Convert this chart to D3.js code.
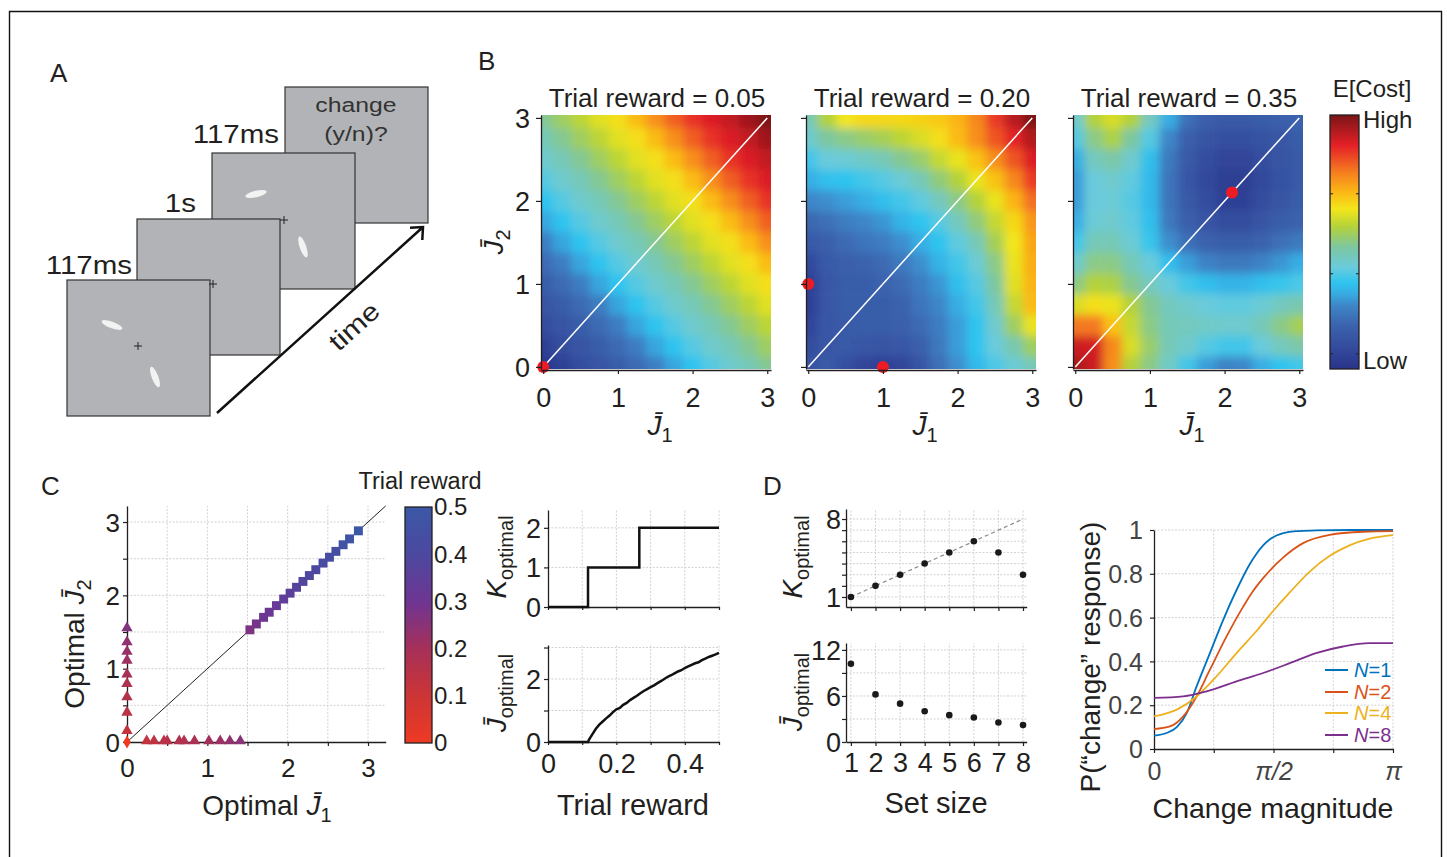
<!DOCTYPE html>
<html>
<head>
<meta charset="utf-8">
<script src="https://cdn.jsdelivr.net/npm/d3@7"></script>
<style>
  body { margin: 0; background: #fff; }
  svg { font-family: "Liberation Sans", Arial, Helvetica, sans-serif; }
</style>
</head>
<body>
<div id="fig"></div>
<script>
// ---------- data ----------
// panel A: trial sequence
const delayLabels = ['117ms', '1s', '117ms'];
const probeText = ['change', '(y/n)?'];

// panel B: expected cost on a 0.25 grid of J1 (columns) x J2 (rows, top row = 3)
const heatRewards = ['0.05', '0.20', '0.35'];
const jGrid = [0, 0.25, 0.5, 0.75, 1, 1.25, 1.5, 1.75, 2, 2.25, 2.5, 2.75, 3];
const costR05 = [
  [49, 53, 57, 61, 64, 69, 75, 81, 86, 89, 92, 96, 100],
  [45, 49, 53, 57, 61, 64, 69, 75, 81, 86, 89, 92, 96],
  [42, 45, 49, 53, 57, 61, 64, 69, 75, 81, 86, 89, 92],
  [38, 42, 45, 49, 53, 57, 61, 64, 69, 75, 81, 86, 89],
  [34, 38, 42, 45, 49, 53, 57, 61, 64, 69, 75, 81, 86],
  [29, 34, 38, 42, 45, 49, 53, 57, 61, 64, 69, 75, 81],
  [23, 29, 34, 38, 42, 45, 49, 53, 57, 61, 64, 69, 75],
  [19, 23, 29, 34, 38, 42, 45, 49, 53, 57, 61, 64, 69],
  [15, 19, 23, 29, 34, 38, 42, 45, 49, 53, 57, 61, 64],
  [12, 15, 19, 23, 29, 34, 38, 42, 45, 49, 53, 57, 61],
  [9, 12, 15, 19, 23, 29, 34, 38, 42, 45, 49, 53, 57],
  [5, 9, 12, 15, 19, 23, 29, 34, 38, 42, 45, 49, 53],
  [2, 5, 9, 12, 15, 19, 23, 29, 34, 38, 42, 45, 49]
];
const costR20 = [
  [45, 56, 63, 65, 65, 65, 66, 67, 70, 76, 85, 93, 100],
  [42, 48, 50, 52, 54, 57, 60, 64, 69, 75, 82, 88, 94],
  [36, 40, 41, 43, 45, 49, 52, 58, 62, 68, 75, 82, 89],
  [30, 33, 34, 36, 38, 41, 45, 51, 56, 62, 68, 76, 85],
  [25, 26, 28, 30, 33, 36, 39, 44, 50, 56, 62, 70, 79],
  [18, 20, 23, 25, 27, 31, 34, 38, 44, 51, 58, 65, 74],
  [14, 16, 19, 21, 23, 26, 30, 34, 39, 45, 54, 63, 72],
  [8, 14, 16, 17, 19, 22, 26, 31, 36, 41, 50, 62, 71],
  [5, 13, 15, 15, 17, 19, 23, 27, 33, 38, 48, 61, 70],
  [5, 13, 15, 15, 15, 17, 21, 25, 30, 36, 45, 58, 69],
  [6, 13, 14, 15, 15, 16, 19, 23, 28, 34, 42, 53, 62],
  [9, 13, 14, 13, 12, 13, 16, 22, 28, 34, 40, 46, 53],
  [12, 14, 10, 6, 5, 6, 12, 20, 26, 32, 37, 41, 45]
];
const costR35 = [
  [42, 56, 60, 56, 44, 30, 20, 16, 14, 14, 15, 16, 17],
  [38, 50, 55, 48, 38, 25, 16, 12, 10, 10, 11, 13, 15],
  [30, 44, 47, 42, 33, 22, 14, 9, 6, 6, 9, 12, 14],
  [28, 40, 42, 39, 32, 21, 13, 8, 4, 4, 8, 11, 14],
  [28, 40, 41, 38, 32, 21, 14, 9, 5, 5, 9, 12, 15],
  [30, 41, 42, 39, 33, 22, 16, 12, 9, 9, 12, 15, 17],
  [36, 45, 45, 41, 35, 26, 20, 17, 15, 15, 17, 20, 22],
  [42, 50, 50, 45, 40, 33, 28, 24, 22, 22, 24, 27, 30],
  [50, 56, 55, 49, 44, 40, 36, 33, 31, 31, 33, 35, 37],
  [60, 64, 62, 56, 49, 44, 42, 40, 39, 39, 41, 44, 46],
  [78, 78, 68, 58, 50, 45, 44, 43, 42, 42, 45, 50, 54],
  [91, 90, 76, 60, 52, 45, 42, 38, 36, 36, 40, 44, 47],
  [95, 91, 75, 56, 50, 43, 36, 28, 24, 25, 30, 34, 36]
];
const bestR05 = [[0, 0]];
const bestR20 = [[0, 1], [1, 0]];
const bestR35 = [[2.1, 2.1]];
const costStops = [0, 8, 17, 25, 30, 34, 40, 48, 56, 63, 70, 78, 88, 100];
const costColors = ['#29338a', '#334a9c', '#3b62ad', '#3e86c8', '#37aee4', '#2fc4ef', '#6acbdc',
  '#7dc7a0', '#b3d23a', '#f3e61b', '#fbb415', '#f47920', '#e52027', '#7a1517'];
const costBarTicks = [6, 37.5, 69];

// panel C: optimal precision per trial reward
const rewardStops = [0, 0.1, 0.2, 0.3, 0.4, 0.5];
const rewardColors = ['#ee3a23', '#cc3535', '#a63059', '#6e3592', '#4c48a0', '#3b58a6'];
const zeroReward = [0];
const triYJ2 = [0.14, 0.39, 0.60, 0.78, 0.91, 1.10, 1.22, 1.35, 1.54];
const triYReward = [0.125, 0.145, 0.165, 0.18, 0.195, 0.215, 0.225, 0.24, 0.265];
const triXJ1 = [0.245, 0.336, 0.46, 0.50, 0.65, 0.71, 0.84, 1.02, 1.16, 1.28, 1.41];
const triXReward = [0.13, 0.14, 0.15, 0.155, 0.17, 0.175, 0.185, 0.205, 0.22, 0.235, 0.25];
const sqJ = [1.53, 1.61, 1.70, 1.77, 1.86, 1.95, 2.03, 2.11, 2.19, 2.27, 2.35, 2.44, 2.52, 2.60, 2.69, 2.77, 2.88];
const sqReward = [0.27, 0.285, 0.30, 0.31, 0.325, 0.34, 0.355, 0.37, 0.38, 0.39, 0.40, 0.415, 0.43, 0.445, 0.46, 0.475, 0.50];

const kRewards = [0, 0.117, 0.267, 0.5];
const kValues = [0, 1, 2, 2];
const jRewards = [0, 0.10, 0.117, 0.12, 0.13, 0.14, 0.15, 0.16, 0.17, 0.18, 0.19, 0.20,
  0.21, 0.22, 0.23, 0.24, 0.25, 0.26, 0.27, 0.28, 0.29, 0.30,
  0.31, 0.32, 0.33, 0.34, 0.35, 0.36, 0.37, 0.38, 0.39, 0.40,
  0.41, 0.42, 0.43, 0.44, 0.45, 0.46, 0.47, 0.48, 0.49, 0.50];
const jValues = [0, 0, 0, 0.08, 0.25, 0.42, 0.55, 0.65, 0.75, 0.84, 0.95, 1.04,
  1.08, 1.18, 1.24, 1.33, 1.40, 1.47, 1.55, 1.62, 1.68, 1.74,
  1.80, 1.87, 1.93, 2.0, 2.07, 2.12, 2.18, 2.24, 2.28, 2.35,
  2.40, 2.45, 2.50, 2.53, 2.60, 2.65, 2.70, 2.74, 2.78, 2.83];

// panel D
const setSizes = [1, 2, 3, 4, 5, 6, 7, 8];
const kOptimal = [1, 2, 3, 4, 5, 6, 5, 3];
const jOptimal = [10.2, 6.2, 5.0, 4.0, 3.5, 3.2, 2.55, 2.2];

const psychN = ['1', '2', '4', '8'];
const psychColors = ['#0072bd', '#d95319', '#edb120', '#7e2f8e'];
const curveN1 = [[0, 0.061], [0.166, 0.073], [0.30, 0.10], [0.43, 0.164], [0.56, 0.286], [0.735, 0.438],
  [0.91, 0.59], [1.085, 0.726], [1.26, 0.845], [1.35, 0.893], [1.435, 0.93], [1.52, 0.957],
  [1.61, 0.975], [1.70, 0.986], [1.87, 0.995], [2.13, 0.998], [2.6, 1.0], [Math.PI, 1.0]];
const curveN2 = [[0, 0.091], [0.21, 0.103], [0.385, 0.149], [0.56, 0.24], [0.735, 0.362], [0.954, 0.514],
  [1.173, 0.65], [1.30, 0.72], [1.435, 0.78], [1.70, 0.875], [1.96, 0.94], [2.31, 0.978],
  [2.75, 0.992], [Math.PI, 0.995]];
const curveN4 = [[0, 0.149], [0.30, 0.18], [0.56, 0.24], [0.82, 0.331], [1.085, 0.438], [1.35, 0.54],
  [1.566, 0.63], [1.785, 0.715], [2.047, 0.81], [2.31, 0.882], [2.57, 0.93], [2.835, 0.961], [Math.PI, 0.977]];
const curveN8 = [[0, 0.233], [0.385, 0.24], [0.69, 0.263], [1.085, 0.309], [1.435, 0.347], [1.785, 0.392],
  [2.13, 0.438], [2.485, 0.468], [2.835, 0.483], [Math.PI, 0.483]];

// ---------- helpers ----------
const ink = '#231f20';
const svg = d3.select('#fig').append('svg').attr('width', 1447).attr('height', 857);
const defs = svg.append('defs');
svg.append('rect').attr('width', 1447).attr('height', 857).attr('fill', '#fff');

function txt(g, x, y, str, size, anchor, fill) {
  return g.append('text').attr('x', x).attr('y', y).attr('font-size', size)
    .attr('text-anchor', anchor || 'start').attr('fill', fill || ink).text(str);
}

// label with italic symbol and subscript, optionally rotated
function mathLabel(g, x, y, size, rotated, parts) {
  const t = g.append('text')
    .attr('transform', `translate(${x},${y})${rotated ? ' rotate(-90)' : ''}`)
    .attr('text-anchor', 'middle').attr('font-size', size).attr('fill', ink);
  parts.forEach(p => {
    const s = t.append('tspan').text(p.t);
    if (p.it) s.attr('font-style', 'italic');
    if (p.sub) s.attr('font-size', Math.round(size * 0.72)).attr('dy', Math.round(size * 0.25));
  });
  return t;
}
const jbar = sub => [{ t: 'J\u0304', it: true }, { t: sub, sub: true }];
const plain = d => String(d);

function axis(gen, at, horizontal, fontSize, labelOffset, color) {
  const a = svg.append('g')
    .attr('transform', horizontal ? `translate(0,${at})` : `translate(${at},0)`)
    .call(gen);
  a.attr('font-family', null).attr('font-size', fontSize);
  a.select('.domain').attr('stroke', ink).attr('stroke-width', 1.3);
  a.selectAll('.tick line').attr('stroke', ink).attr('stroke-width', 1.2);
  const t = a.selectAll('.tick text').attr('fill', color || ink);
  if (horizontal) t.attr('y', labelOffset).attr('dy', 0);
  else t.attr('x', labelOffset).attr('dy', '0.35em');
  return a;
}

function grid(xs, ys, xv, yv) {
  const [xa, xb] = xs.range(), [ya, yb] = ys.range();
  const gg = svg.append('g').attr('stroke', '#d2d2d2').attr('stroke-width', 1)
    .attr('stroke-dasharray', '2,1.5');
  gg.selectAll(null).data(xv).join('line')
    .attr('x1', d => xs(d)).attr('x2', d => xs(d)).attr('y1', ya).attr('y2', yb);
  gg.selectAll(null).data(yv).join('line')
    .attr('y1', d => ys(d)).attr('y2', d => ys(d)).attr('x1', xa).attr('x2', xb);
}

// frame of the whole figure
svg.append('path').attr('d', 'M9.5,857 V11.5 H1441.5 V857')
  .attr('fill', 'none').attr('stroke', '#111').attr('stroke-width', 1.4);

// panel letters
[['A', 50, 82], ['B', 478, 70], ['C', 41, 495], ['D', 763, 495]]
  .forEach(([s, x, y]) => txt(svg, x, y, s, 26));

// ---------- panel A ----------
const gA = svg.append('g');
const frameXY = [[67, 280], [137, 219], [212, 153], [285, 87]];
const crossXY = [[138, 346], [213, 284], [284, 220], null];
const gabors = [[[112, 325, 20], [155, 377, 69]], [], [[256, 194, -12.6], [303, 247, 71]], []];
for (let i = 3; i >= 0; i--) {
  const [fx, fy] = frameXY[i];
  gA.append('rect').attr('x', fx).attr('y', fy).attr('width', 143).attr('height', 136)
    .attr('fill', '#b1b3b6').attr('stroke', '#333').attr('stroke-width', 1.2);
  gabors[i].forEach(([x, y, a]) => gA.append('ellipse').attr('rx', 11).attr('ry', 3.3)
    .attr('transform', `translate(${x},${y}) rotate(${a})`).attr('fill', '#f2f2f2'));
}
crossXY.filter(Boolean).forEach(([cx, cy]) => gA.append('path')
  .attr('d', `M${cx - 4},${cy}H${cx + 4}M${cx},${cy - 4}V${cy + 4}`)
  .attr('stroke', '#222').attr('stroke-width', 1));
const stretched = (x, y, s, size, anchor) => gA.append('text')
  .attr('transform', `translate(${x},${y}) scale(1.18,1)`).attr('font-size', size)
  .attr('text-anchor', anchor).attr('fill', ink).text(s);
stretched(132, 274, delayLabels[0], 25, 'end');
stretched(196, 212, delayLabels[1], 25, 'end');
stretched(279, 143, delayLabels[2], 25, 'end');
stretched(356, 112, probeText[0], 21, 'middle').attr('fill', '#333');
stretched(356, 141, probeText[1], 21, 'middle').attr('fill', '#333');
gA.append('path').attr('d', 'M217,413 L423,227 M410,227.7 L423,227 L422.3,240')
  .attr('fill', 'none').attr('stroke', '#111').attr('stroke-width', 2.5);
gA.append('text').attr('transform', 'translate(354,326) rotate(-42) scale(1.18,1)')
  .attr('font-size', 26).attr('text-anchor', 'middle').attr('dy', '0.35em').attr('fill', ink).text('time');

// ---------- panel B ----------
const costColor = d3.scaleLinear().domain(costStops).range(costColors).clamp(true);
const soft = defs.append('filter').attr('id', 'soft');
soft.append('feGaussianBlur').attr('stdDeviation', 5);

const heatData = [costR05, costR20, costR35];
const heatBest = [bestR05, bestR20, bestR35];
const heatLefts = [541, 806, 1073];
const half = (jGrid[1] - jGrid[0]) / 2;
const last = jGrid.length - 1;

heatData.forEach((mat, p) => {
  const left = heatLefts[p];
  const xs = d3.scaleLinear([-0.03, 3.05], [left, left + 230]);
  const ys = d3.scaleLinear([-0.025, 3.035], [369, 115]);
  defs.append('clipPath').attr('id', 'hclip' + p).append('rect')
    .attr('x', left).attr('y', 115).attr('width', 230).attr('height', 254);
  const cells = [];
  mat.forEach((row, r) => row.forEach((v, c) => cells.push({ c, k: last - r, v })));
  const lo = k => k === 0 ? -0.6 : jGrid[k] - half;
  const hi = k => k === last ? 3.6 : jGrid[k] + half;
  svg.append('g').attr('clip-path', `url(#hclip${p})`)
    .append('g').attr('filter', 'url(#soft)')
    .selectAll('rect').data(cells).join('rect')
    .attr('x', d => xs(lo(d.c)))
    .attr('width', d => xs(hi(d.c)) - xs(lo(d.c)) + 0.6)
    .attr('y', d => ys(hi(d.k)))
    .attr('height', d => ys(lo(d.k)) - ys(hi(d.k)) + 0.6)
    .attr('fill', d => costColor(d.v));

  svg.append('line').attr('x1', xs(0)).attr('y1', ys(0)).attr('x2', xs(3)).attr('y2', ys(3))
    .attr('stroke', '#fff').attr('stroke-width', 1.5);
  svg.selectAll(null).data(heatBest[p]).join('circle')
    .attr('cx', d => xs(d[0])).attr('cy', d => ys(d[1])).attr('r', 6).attr('fill', '#ed1c24');

  axis(d3.axisBottom(xs).tickValues([0, 1, 2, 3]).tickSize(4).tickSizeOuter(0).tickFormat(plain),
    370, true, 27, 37);
  axis(d3.axisLeft(ys).tickValues([0, 1, 2, 3]).tickSize(5).tickSizeOuter(0)
    .tickFormat(p === 0 ? plain : () => ''), left, false, 27, -11);

  txt(svg, left + 116, 107, `Trial reward = ${heatRewards[p]}`, 26, 'middle');
  mathLabel(svg, left + 119, 435, 28, false, jbar('1'));
  if (p === 0) mathLabel(svg, 503, 242, 28, true, jbar('2'));
});

// cost colour bar
const cg = defs.append('linearGradient').attr('id', 'costGrad')
  .attr('x1', 0).attr('y1', 1).attr('x2', 0).attr('y2', 0);
costStops.forEach((s, i) => cg.append('stop').attr('offset', s / 100).attr('stop-color', costColors[i]));
const cbar = d3.scaleLinear([0, 100], [369, 115]);
svg.append('rect').attr('x', 1330).attr('y', 115).attr('width', 29).attr('height', 254)
  .attr('fill', 'url(#costGrad)').attr('stroke', ink).attr('stroke-width', 1.3);
svg.selectAll(null).data(costBarTicks).join('path')
  .attr('d', d => `M1330,${cbar(d)}h3M1359,${cbar(d)}h-3`).attr('stroke', ink).attr('stroke-width', 1.2);
txt(svg, 1372, 97, 'E[Cost]', 24, 'middle');
txt(svg, 1363, 128, 'High', 24);
txt(svg, 1363, 369, 'Low', 24);

// ---------- panel C ----------
const rewardColor = d3.scaleLinear(rewardStops, rewardColors);
const xsC = d3.scaleLinear([0, 3.22], [127, 385.7]);
const ysC = d3.scaleLinear([0, 3.22], [742, 505.9]);
const halfSteps = [0.5, 1, 1.5, 2, 2.5, 3];
grid(xsC, ysC, halfSteps, halfSteps);
svg.append('line').attr('x1', xsC(0)).attr('y1', ysC(0)).attr('x2', xsC(3.22)).attr('y2', ysC(3.22))
  .attr('stroke', ink).attr('stroke-width', 1);
const intOnly = d => Number.isInteger(d) ? String(d) : '';
axis(d3.axisBottom(xsC).tickValues([0, ...halfSteps]).tickSize(4).tickSizeOuter(0).tickFormat(intOnly), 742, true, 26, 35);
axis(d3.axisLeft(ysC).tickValues([0, ...halfSteps]).tickSize(4).tickSizeOuter(0).tickFormat(intOnly), 127, false, 26, -7);

const sym = (type, size) => d3.symbol().type(type).size(size)();
const marks = [
  ...triYJ2.map((j, i) => ({ x: 0, y: j, r: triYReward[i], s: 'tri' })),
  ...triXJ1.map((j, i) => ({ x: j, y: 0, r: triXReward[i], s: 'tri' })),
  ...sqJ.map((j, i) => ({ x: j, y: j, r: sqReward[i], s: 'sq' })),
  ...zeroReward.map(r => ({ x: 0, y: 0, r, s: 'dia' }))
];
const shapes = { tri: sym(d3.symbolTriangle, 56), sq: sym(d3.symbolSquare, 80), dia: sym(d3.symbolDiamond, 50) };
svg.selectAll(null).data(marks).join('path')
  .attr('d', d => shapes[d.s])
  .attr('transform', d => `translate(${xsC(d.x)},${ysC(d.y) - (d.s === 'tri' ? 1 : 0)})`)
  .attr('fill', d => rewardColor(d.r));
mathLabel(svg, 267, 815, 28, false, [{ t: 'Optimal ' }, ...jbar('1')]);
mathLabel(svg, 84, 644, 28, true, [{ t: 'Optimal ' }, ...jbar('2')]);

// reward colour bar
const rg = defs.append('linearGradient').attr('id', 'rewGrad')
  .attr('x1', 0).attr('y1', 1).attr('x2', 0).attr('y2', 0);
rewardStops.forEach((s, i) => rg.append('stop').attr('offset', s / 0.5).attr('stop-color', rewardColors[i]));
const rbar = d3.scaleLinear([0, 0.5], [743, 507]);
svg.append('rect').attr('x', 405).attr('y', 507).attr('width', 27).attr('height', 236)
  .attr('fill', 'url(#rewGrad)').attr('stroke', ink).attr('stroke-width', 1.3);
svg.selectAll(null).data(rewardStops).join('text')
  .attr('x', 434).attr('y', d => rbar(d)).attr('dy', '0.35em').attr('font-size', 24).attr('fill', ink)
  .text(d => d);
txt(svg, 420, 489, 'Trial reward', 23.5, 'middle');

// K optimal vs reward
const xsR = d3.scaleLinear([0, 0.5], [548, 719]);
const ysK = d3.scaleLinear([0, 2.45], [607, 510]);
const tenths = [0.1, 0.2, 0.3, 0.4, 0.5];
grid(xsR, ysK, tenths, [1, 2]);
axis(d3.axisBottom(xsR).tickValues([0, ...tenths]).tickSize(3).tickSizeOuter(0).tickFormat(() => ''), 607, true, 26, 30);
axis(d3.axisLeft(ysK).tickValues([0, 1, 2]).tickSize(4).tickSizeOuter(0).tickFormat(plain), 548, false, 27, -7);
svg.append('path').datum(kRewards.map((r, i) => [r, kValues[i]]))
  .attr('d', d3.line().x(d => xsR(d[0])).y(d => ysK(d[1])).curve(d3.curveStepAfter))
  .attr('fill', 'none').attr('stroke', '#111').attr('stroke-width', 2.5);
mathLabel(svg, 506, 557, 28, true, [{ t: 'K', it: true }, { t: 'optimal', sub: true }]);

// J optimal vs reward
const ysJ = d3.scaleLinear([0, 3.08], [742, 645]);
grid(xsR, ysJ, tenths, [1, 2, 3]);
axis(d3.axisBottom(xsR).tickValues([0, ...tenths]).tickSize(3).tickSizeOuter(0)
  .tickFormat(d => d === 0 ? '0' : (d === 0.2 || d === 0.4 ? String(d) : '')), 742, true, 27, 31);
axis(d3.axisLeft(ysJ).tickValues([0, 1, 2, 3]).tickSize(4).tickSizeOuter(0)
  .tickFormat(d => d % 2 === 0 ? String(d) : ''), 548, false, 27, -7);
svg.append('path').datum(jRewards.map((r, i) => [r, jValues[i]]))
  .attr('d', d3.line().x(d => xsR(d[0])).y(d => ysJ(d[1])))
  .attr('fill', 'none').attr('stroke', '#111').attr('stroke-width', 2.5);
mathLabel(svg, 506, 693, 28, true, [{ t: 'J\u0304', it: true }, { t: 'optimal', sub: true }]);
txt(svg, 633, 815, 'Trial reward', 29, 'middle');

// ---------- panel D ----------
const xsD = d3.scaleLinear([0.8, 8.15], [846, 1026.7]);
const ysDK = d3.scaleLinear([0.1, 8.9], [607, 509]);
grid(xsD, ysDK, setSizes, setSizes);
axis(d3.axisBottom(xsD).tickValues(setSizes).tickSize(4).tickSizeOuter(0).tickFormat(() => ''), 607, true, 26, 30);
axis(d3.axisLeft(ysDK).tickValues(setSizes).tickSize(4).tickSizeOuter(0)
  .tickFormat(d => d === 1 || d === 8 ? String(d) : ''), 846, false, 27, -5);
svg.append('line').attr('x1', xsD(1)).attr('y1', ysDK(1)).attr('x2', xsD(8)).attr('y2', ysDK(8))
  .attr('stroke', '#8a8a8a').attr('stroke-width', 1.2).attr('stroke-dasharray', '4,3');
svg.selectAll(null).data(setSizes).join('circle')
  .attr('cx', d => xsD(d)).attr('cy', (d, i) => ysDK(kOptimal[i])).attr('r', 3.3).attr('fill', '#1a1a1a');
mathLabel(svg, 802, 557, 28, true, [{ t: 'K', it: true }, { t: 'optimal', sub: true }]);

const ysDJ = d3.scaleLinear([0, 12.9], [742, 643]);
grid(xsD, ysDJ, setSizes, [3, 6, 9, 12]);
axis(d3.axisBottom(xsD).tickValues(setSizes).tickSize(4).tickSizeOuter(0).tickFormat(plain), 742, true, 27, 30);
axis(d3.axisLeft(ysDJ).tickValues([0, 3, 6, 9, 12]).tickSize(4).tickSizeOuter(0)
  .tickFormat(d => d % 6 === 0 ? String(d) : ''), 846, false, 27, -5);
svg.selectAll(null).data(setSizes).join('circle')
  .attr('cx', d => xsD(d)).attr('cy', (d, i) => ysDJ(jOptimal[i])).attr('r', 3.3).attr('fill', '#1a1a1a');
mathLabel(svg, 802, 692, 28, true, [{ t: 'J\u0304', it: true }, { t: 'optimal', sub: true }]);
txt(svg, 936, 813, 'Set size', 29, 'middle');

// psychometric curves
const xsP = d3.scaleLinear([0, Math.PI], [1154, 1393]);
const ysP = d3.scaleLinear([0, 1], [749, 530]);
const quarterPi = [Math.PI / 4, Math.PI / 2, 3 * Math.PI / 4, Math.PI];
const piLabels = ['0', '', 'π/2', '', 'π'];
grid(xsP, ysP, quarterPi, [0.2, 0.4, 0.6, 0.8, 1]);
const pxAxis = axis(d3.axisBottom(xsP).tickValues([0, ...quarterPi]).tickSize(4).tickSizeOuter(0)
  .tickFormat((d, i) => piLabels[i]), 749, true, 25, 31, '#444');
pxAxis.selectAll('.tick text').attr('font-style', (d, i) => i === 0 ? null : 'italic');
axis(d3.axisLeft(ysP).tickValues([0, 0.2, 0.4, 0.6, 0.8, 1]).tickSize(4).tickSizeOuter(0).tickFormat(plain),
  1154, false, 25, -11, '#444');
const pLine = d3.line().x(d => xsP(d[0])).y(d => ysP(d[1])).curve(d3.curveMonotoneX);
[curveN1, curveN2, curveN4, curveN8].forEach((c, i) => svg.append('path').datum(c)
  .attr('d', pLine).attr('fill', 'none').attr('stroke', psychColors[i]).attr('stroke-width', 1.8));
const legendY = [670, 692, 713, 735];
psychN.forEach((n, i) => {
  svg.append('line').attr('x1', 1325).attr('x2', 1348).attr('y1', legendY[i]).attr('y2', legendY[i])
    .attr('stroke', psychColors[i]).attr('stroke-width', 2);
  const t = svg.append('text').attr('x', 1354).attr('y', legendY[i]).attr('dy', '0.35em')
    .attr('font-size', 20).attr('fill', psychColors[i]);
  t.append('tspan').attr('font-style', 'italic').text('N');
  t.append('tspan').text('=' + n);
});
txt(svg, 1273, 818, 'Change magnitude', 28.5, 'middle');
mathLabel(svg, 1100, 657, 28, true, [{ t: 'P(“change” response)' }]);
</script>
</body>
</html>
